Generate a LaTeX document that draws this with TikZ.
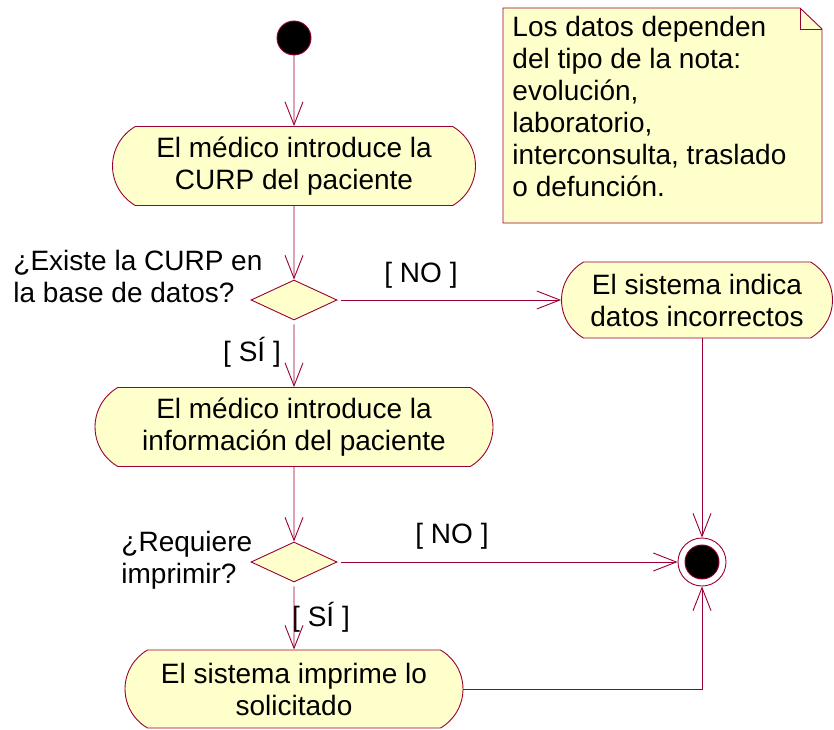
\documentclass[tikz,border=0pt]{standalone}
\usepackage{fontspec}
\setmainfont{Liberation Sans}
\usetikzlibrary{shapes.geometric, shapes.misc, arrows.meta}
\definecolor{umlred}{RGB}{153,0,51}
\definecolor{umlfill}{RGB}{255,255,204}

\begin{document}
\begin{tikzpicture}[x=1pt, y=1pt, line width=0.9pt,
    font=\fontsize{28}{32}\selectfont,
    activity/.style={rounded rectangle, rounded rectangle arc length=120,
        draw=umlred, fill=umlfill, align=center, inner sep=0pt},
    decision/.style={diamond, draw=umlred, fill=umlfill, inner sep=0pt,
        minimum width=86pt, minimum height=40pt},
    startnode/.style={circle, draw=umlred, fill=black, minimum size=34pt, inner sep=0pt},
    endnode/.style={circle, draw=umlred, fill=white, minimum size=48pt, inner sep=0pt,
        path picture={\fill[umlred] (path picture bounding box.center) circle (17.5pt);
                      \fill[black] (path picture bounding box.center) circle (16.5pt);}},
    question/.style={align=left, inner sep=0pt, anchor=north west},
    guard/.style={inner sep=0pt},
    flow/.style={draw=umlred, -{Straight Barb[length=23pt, width=18pt]}},
    notebox/.style={draw=umlred, fill=umlfill}]
    \useasboundingbox (0,0) rectangle (834,729);

    % --- Note ---
    \filldraw[notebox] (503,721) -- (800,721) -- (822,700) -- (822,506) -- (503,506) -- cycle;
    \draw[umlred] (800,721) -- (800,700) -- (822,700);
    \node[question] (nota) at (512,713) {Los datos dependen\\del tipo de la nota:\\evolución,\\laboratorio,\\interconsulta, traslado\\o defunción.};

    % --- Main flow ---
    \node[startnode] (inicio) at (294,691) {};
    \node[activity, minimum width=363pt, minimum height=79pt] (curp) at (294,563) {El médico introduce la\\CURP del paciente};
    \node[decision] (existe) at (294,429) {};
    \node[question] (qexiste) at (13,479) {¿Existe la CURP en\\la base de datos?};
    \node[activity, minimum width=398pt, minimum height=79pt] (info) at (294,302) {El médico introduce la\\información del paciente};
    \node[decision] (imprimir) at (294,167) {};
    \node[question] (qimprimir) at (121,198) {¿Requiere\\imprimir?};
    \node[activity, minimum width=338pt, minimum height=78pt] (imprime) at (294,40) {El sistema imprime lo\\solicitado};

    % --- Error branch and end ---
    \node[activity, minimum width=271pt, minimum height=76pt] (indica) at (697,429) {El sistema indica\\datos incorrectos};
    \node[endnode] (fin) at (702,167) {};

    % --- Guards ---
    \node[guard] (no1) at (421,454) {[ NO ]};
    \node[guard] (si1) at (252,377) {[ SÍ ]};
    \node[guard] (no2) at (452,193) {[ NO ]};
    \node[guard] (si2) at (321,112) {[ SÍ ]};

    % --- Connectors ---
    \draw[flow] (inicio) -- (curp);
    \draw[flow] (curp) -- (existe);
    \draw[flow, shorten <=4pt] (existe) -- (info);
    \draw[flow, shorten <=4pt] (existe) -- (indica);
    \draw[flow] (info) -- (imprimir);
    \draw[flow, shorten <=4pt] (imprimir) -- (imprime);
    \draw[flow, shorten <=4pt] (imprimir) -- (fin);
    \draw[flow] (indica.south -| fin) -- (fin);
    \draw[flow] (imprime.east) -| (fin);
\end{tikzpicture}
\end{document}
